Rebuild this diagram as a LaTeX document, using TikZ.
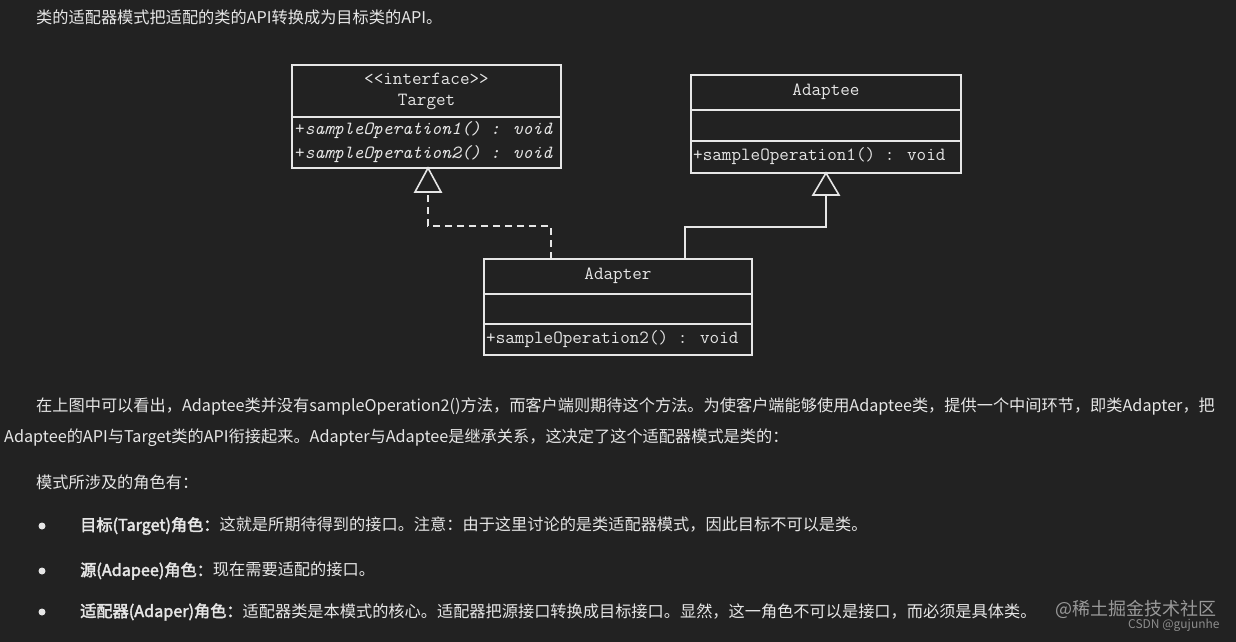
\documentclass[tikz,border=0pt]{standalone}
\usepackage{fontspec}
\newfontfamily\cjk{Noto Sans CJK SC}
\newfontfamily\cjkb[FakeBold=2.5]{Noto Sans CJK SC}
\definecolor{bg}{HTML}{222222}
\definecolor{fg}{HTML}{E6E6E6}
\tikzset{
  box/.style={draw=fg,line width=1.6pt},
  sep/.style={draw=fg,line width=1.4pt},
  mono/.style={text=fg,font=\ttfamily\fontsize{18.6}{20}\selectfont,inner sep=0pt},
  para/.style={text=fg,font=\cjk\fontsize{16.2}{18}\selectfont,anchor=west,inner sep=0pt},
  tri/.style={draw=fg,line width=1.6pt,fill=bg},
  conn/.style={draw=fg,line width=1.6pt},
}
\begin{document}
\begin{tikzpicture}[x=1pt,y=-1pt]
\fill[bg] (0,0) rectangle (1236,642);
\useasboundingbox (0,0) rectangle (1236,642);
\node[para] (t0) at (36,17) {类的适配器模式把适配的类的API转换成为目标类的API。};
% Target
\draw[box] (292,65) rectangle (561,168);
\draw[sep] (292,117) -- (561,117);
\node[mono] (ts) at (426.5,79) {<<interface>>};
\node[mono] (tn) at (426.5,102) {Target};
\node[mono,anchor=west] (tm1) at (295,130) {+\textit{sampleOperation1() : void}};
\node[mono,anchor=west] (tm2) at (295,154) {+\textit{sampleOperation2() : void}};
% Adaptee
\draw[box] (691,75) rectangle (961,173);
\draw[sep] (691,110) -- (961,110);
\draw[sep] (691,141) -- (961,141);
\node[mono] (an) at (826,92) {Adaptee};
\node[mono,anchor=west] (am) at (693,156) {+sampleOperation1() : void};
% Adapter
\draw[box] (484,259) rectangle (752,355);
\draw[sep] (484,294) -- (752,294);
\draw[sep] (484,324) -- (752,324);
\node[mono] (dn) at (618,276) {Adapter};
\node[mono,anchor=west] (dm) at (486,339) {+sampleOperation2() : void};
% connectors
\coordinate (tt) at (428,168);
\coordinate (at) at (826,173);
\draw[conn,dashed,dash pattern=on 7pt off 5pt] (551,259) -- (551,226) -- (428,226) -- (428,192);
\draw[tri] (tt) -- (415,192) -- (441,192) -- cycle;
\draw[conn] (685,259) -- (685,227) -- (826,227) -- (826,195);
\draw[tri] (at) -- (813,195) -- (839,195) -- cycle;
% text
\node[para] (p1) at (36,406) {在上图中可以看出，Adaptee类并没有sampleOperation2()方法，而客户端则期待这个方法。为使客户端能够使用Adaptee类，提供一个中间环节，即类Adapter，把};
\node[para] (p2) at (4,438) {Adaptee的API与Target类的API衔接起来。Adapter与Adaptee是继承关系，这决定了这个适配器模式是类的：};
\node[para] (p3) at (36,482) {模式所涉及的角色有：};
\foreach \y/\n in {526/b1,571/b2,612/b3} \fill[fg] (42,\y) circle (3.5pt);
\node[para] (l1) at (80,526) {{\cjkb 目标(Target)角色：}这就是所期待得到的接口。注意：由于这里讨论的是类适配器模式，因此目标不可以是类。};
\node[para] (l2) at (80,571) {{\cjkb 源(Adapee)角色：}现在需要适配的接口。};
\node[para] (l3) at (80,612) {{\cjkb 适配器(Adaper)角色：}适配器类是本模式的核心。适配器把源接口转换成目标接口。显然，这一角色不可以是接口，而必须是具体类。};
\node[para,text=gray!80,font=\cjk\fontsize{18}{20}\selectfont] (w1) at (1055,609) {@稀土掘金技术社区};
\node[para,text=gray!90,font=\cjk\fontsize{12}{14}\selectfont] (w2) at (1128,625) {CSDN @gujunhe};
\end{tikzpicture}
\end{document}
